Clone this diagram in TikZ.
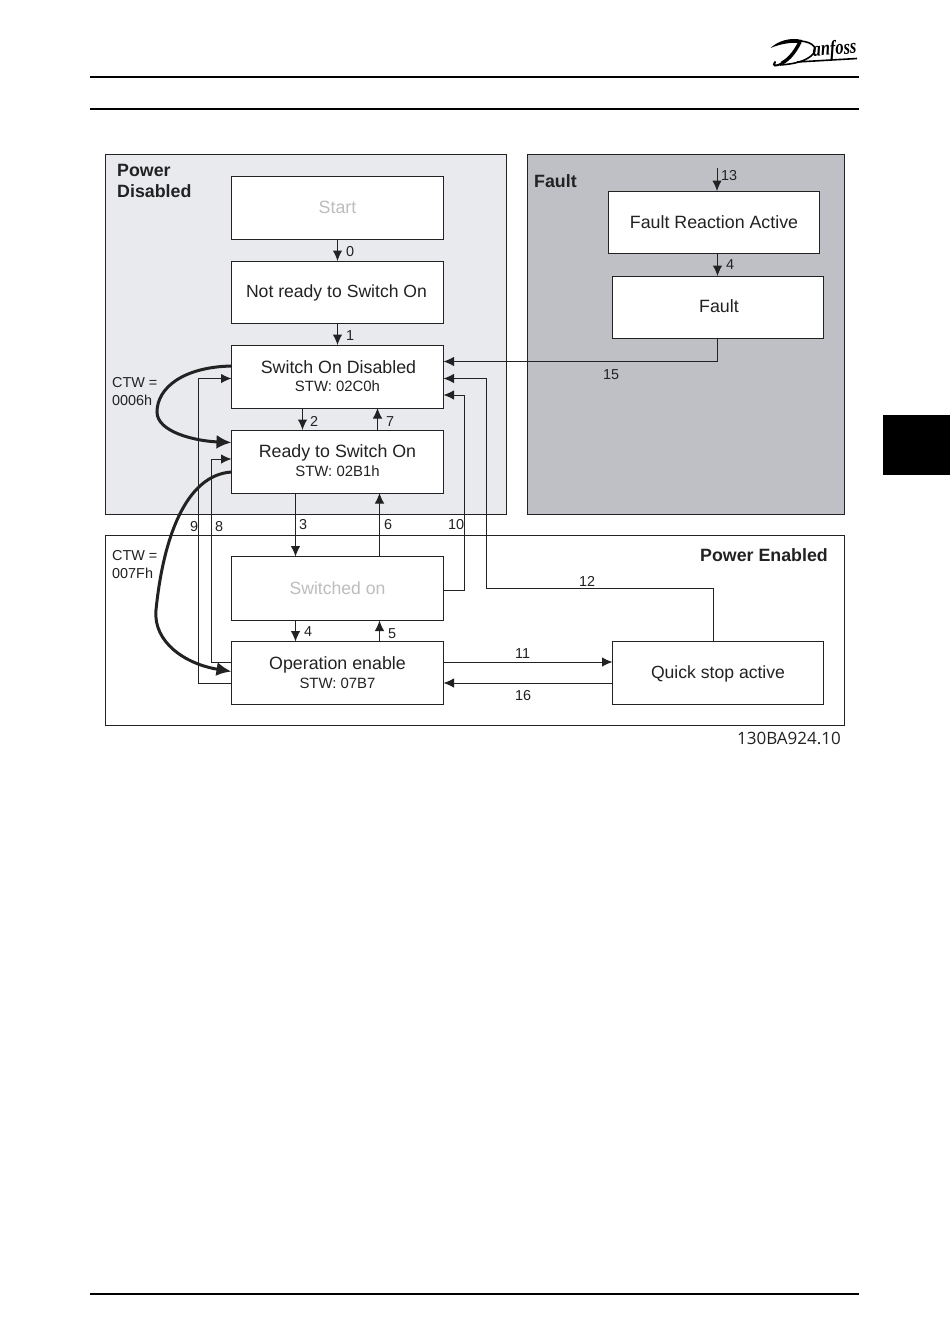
\documentclass[tikz,border=0pt]{standalone}
\usepackage{graphicx}
\usepackage{fontspec}
\setmainfont{Liberation Sans}
\newfontfamily\logofont{Liberation Serif}
\newfontfamily\codefont{Open Sans}
\usetikzlibrary{arrows.meta}
\definecolor{pdis}{HTML}{E9EAEE}
\definecolor{pfault}{HTML}{BEC0C5}
\definecolor{ghost}{HTML}{BDBDBD}
\definecolor{ink}{HTML}{222222}
\newcommand{\fa}{\fontsize{17.8}{20}\selectfont}
\newcommand{\fe}{\fontsize{17.6}{20}\selectfont}
\newcommand{\fb}{\fontsize{14.9}{17}\selectfont}
\newcommand{\fc}{\fontsize{14.4}{16}\selectfont}
\newcommand{\fd}{\fontsize{17.8}{21}\selectfont\bfseries}
\tikzset{
  panel/.style={draw=ink,line width=0.9pt,anchor=north west,inner sep=0pt,outer sep=0pt},
  statebox/.style={draw=ink,fill=white,line width=1pt,anchor=north west,inner sep=0pt,outer sep=0pt,align=center,text=ink},
  conn/.style={draw=ink,line width=1pt,-{Latex[length=10.5pt,width=9.5pt]}},
  heavy/.style={draw=ink,line width=3pt,-{Latex[length=15pt,width=14pt]}},
  lab/.style={anchor=base west,inner sep=0pt,text=ink,font=\fc},
  ttl/.style={anchor=base west,inner sep=0pt,text=ink,font=\fd},
  stext/.style={inner sep=0pt,text=ink},
  rule/.style={draw=black,line width=2pt}
}
\begin{document}
\begin{tikzpicture}[x=1pt,y=-1pt]
\useasboundingbox (0,0) rectangle (950,1344);
\fill[white] (0,0) rectangle (950,1344);
% page furniture
\coordinate (r1a) at (90,77);\coordinate (r1b) at (859,77);
\coordinate (r2a) at (90,109);\coordinate (r2b) at (859,109);
\coordinate (r3a) at (90,1294);\coordinate (r3b) at (859,1294);
\draw[rule] (r1a) -- (r1b);
\draw[rule] (r2a) -- (r2b);
\draw[rule] (r3a) -- (r3b);
\fill[black] (883,415) rectangle (950,475);
% logo
\node[anchor=base west,inner sep=0pt,text=black,rotate=4,font=\logofont\bfseries\itshape\fontsize{21}{23}\selectfont] (logo) at (813,56.5) {\scalebox{0.78}[1]{anfoss}};
\fill[black] (770.5,48) .. controls (778,41) and (790,37) .. (802,40) -- (801,43) .. controls (791,42) and (780,44) .. (770.5,48) -- cycle;
\draw[black,line width=3.4pt] (800,42) .. controls (796,50) and (790,59) .. (782,63);
\draw[black,line width=2pt,line cap=round] (782,63) .. controls (776,67) and (772,66) .. (775,62);
\draw[black,line width=1.6pt] (800,41) .. controls (815,42) and (819,50) .. (811,56) .. controls (805,61) and (795,64) .. (780,65);
\draw[black,line width=1.6pt] (797,62) -- (857,58.5);
% panels
\node[panel,fill=pdis,minimum width=401pt,minimum height=360pt] (pd) at (105.5,154.5) {};
\node[panel,fill=pfault,minimum width=317pt,minimum height=360pt] (pf) at (527.5,154.5) {};
\node[panel,fill=white,minimum width=739pt,minimum height=190pt] (pe) at (105.5,535.5) {};
% titles
\node[ttl] (t1) at (117,176) {Power};
\node[ttl] (t2) at (117,197) {Disabled};
\node[ttl] (t3) at (534,187) {Fault};
\node[ttl,anchor=base east] (t4) at (828,561) {Power Enabled};
% states
\node[statebox,minimum width=212pt,minimum height=63pt,text=ghost,font=\fa] (start) at (231.5,176) {Start};
\node[statebox,minimum width=212pt,minimum height=62pt] (nrd) at (231.5,261) {};
\node[statebox,minimum width=212pt,minimum height=63pt] (sod) at (231.5,345) {};
\node[statebox,minimum width=212pt,minimum height=63pt] (rdy) at (231.5,430) {};
\node[statebox,minimum width=212pt,minimum height=64pt,text=ghost,font=\fe] (swo) at (231.5,556.5) {Switched on};
\node[statebox,minimum width=212pt,minimum height=63pt] (ope) at (231.5,641.5) {};
\node[statebox,minimum width=211pt,minimum height=63pt] (qs) at (612.5,641.5) {};
\node[statebox,minimum width=211pt,minimum height=62pt,font=\fa] (fra) at (608.5,191) {Fault Reaction Active};
\node[statebox,minimum width=211pt,minimum height=62pt] (flt) at (612.5,276) {};
\node[stext,font=\fe] (nrdt) at (336.5,293) {Not ready to Switch On};
\node[stext,font=\fe] (qst) at (718,673.5) {Quick stop active};
\node[stext,font=\fa] (fltt) at (719,306) {Fault};
\node[stext,anchor=base,font=\fa] (s1) at (338.5,373) {Switch On Disabled};
\node[stext,anchor=base,font=\fb] (s2) at (337.5,391) {STW: 02C0h};
\node[stext,anchor=base,font=\fa] (r1) at (337.5,457) {Ready to Switch On};
\node[stext,anchor=base,font=\fb] (r2) at (337.5,476) {STW: 02B1h};
\node[stext,anchor=base,font=\fa] (o1) at (337.5,669) {Operation enable};
\node[stext,anchor=base,font=\fb] (o2) at (337.5,688) {STW: 07B7};
% free ends
\coordinate (c13) at (717,168);
% straight connectors
\draw[conn] (start.south) -- (nrd.north);
\draw[conn] (nrd.south) -- (sod.north);
\draw[conn] ([xshift=71pt]sod.south west) -- ([xshift=71pt]rdy.north west);
\draw[conn] ([xshift=146pt]rdy.north west) -- ([xshift=146pt]sod.south west);
\draw[conn] ([xshift=64pt]rdy.south west) -- ([xshift=64pt]swo.north west);
\draw[conn] ([xshift=148pt]swo.north west) -- ([xshift=148pt]rdy.south west);
\draw[conn] ([xshift=64pt]swo.south west) -- ([xshift=64pt]ope.north west);
\draw[conn] ([xshift=148pt]ope.north west) -- ([xshift=148pt]swo.south west);
\draw[conn] (c13) -- (c13 |- fra.north);
\draw[conn] ([xshift=109pt]fra.south west) -- ([xshift=105pt]flt.north west);
\draw[conn] ([yshift=-20.5pt]ope.north east) -- ([yshift=-20.5pt]qs.north west);
\draw[conn] ([yshift=-41.5pt]qs.north west) -- ([yshift=-41.5pt]ope.north east);
% routed connectors
\draw[conn] ([xshift=105pt]flt.south west) |- ([yshift=-16.5pt]sod.north east);
\draw[conn] ([yshift=-34pt]swo.north east) -- ++(21,0) |- ([yshift=-50pt]sod.north east);
\draw[conn] ([xshift=101pt]qs.north west) -- ++(0,-53) -- ++(-227.5,0) |- ([yshift=-33.5pt]sod.north east);
\draw[conn] ([yshift=-41.5pt]ope.north west) -- ++(-33,0) |- ([yshift=-33.5pt]sod.north west);
\draw[conn] ([yshift=-20.5pt]ope.north west) -- ++(-20.5,0) |- ([yshift=-29pt]rdy.north west);
% heavy curves
\draw[heavy] ([yshift=-21pt]sod.north west) .. controls (183,367) and (157,388) .. (157,412) .. controls (157,432) and (195,441) .. ([yshift=-12.5pt]rdy.north west);
\draw[heavy] ([yshift=-42pt]rdy.north west) .. controls (185,475) and (163,540) .. (156,610) .. controls (153,642) and (185,664) .. ([yshift=-30pt]ope.north west);
% connector labels
\node[lab] (n0) at (346,256) {0};
\node[lab] (n1) at (346,340) {1};
\node[lab] (n2) at (310,426) {2};
\node[lab] (n7) at (386,426) {7};
\node[lab] (n3) at (299,529) {3};
\node[lab] (n6) at (384,529) {6};
\node[lab] (n10) at (448,529) {10};
\node[lab] (n9) at (190,531) {9};
\node[lab] (n8) at (215,531) {8};
\node[lab] (n4) at (304,636) {4};
\node[lab] (n5) at (388,638) {5};
\node[lab] (n12) at (579,586) {12};
\node[lab] (n11) at (515,658) {11};
\node[lab] (n16) at (515,700) {16};
\node[lab] (n15) at (603,379) {15};
\node[lab] (n13) at (721,180) {13};
\node[lab] (n4b) at (726,269) {4};
\node[lab] (ca) at (112,387) {CTW =};
\node[lab] (cb) at (112,405) {0006h};
\node[lab] (cc) at (112,560) {CTW =};
\node[lab] (cd) at (112,578) {007Fh};
\node[anchor=base east,inner sep=0pt,text=ink,font=\codefont\fontsize{17}{20}\selectfont] (code) at (841,744) {130BA924.10};
\end{tikzpicture}
\end{document}
